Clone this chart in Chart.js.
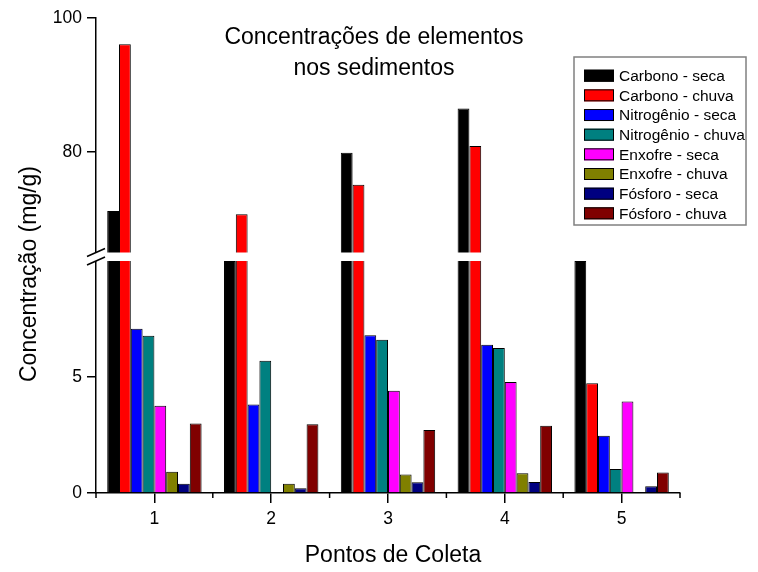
<!DOCTYPE html>
<html>
<head>
<meta charset="utf-8">
<script src="https://cdn.jsdelivr.net/npm/chart.js@4/dist/chart.umd.min.js"></script>
<style>
  html, body { margin: 0; padding: 0; background: #fff; }
  canvas { display: block; }
</style>
</head>
<body>
<canvas id="chart" width="758" height="572"></canvas>
<script>
// Sampling points and concentrations (mg/g) per element and season
const categories = ['1', '2', '3', '4', '5'];
const carbonoSeca     = [71.2, 60.0, 79.9, 86.5, 50.0];
const carbonoChuva    = [96.1, 70.7, 75.1, 80.9, 4.73];
const nitrogenioSeca  = [7.08, 3.82, 6.80, 6.39, 2.47];
const nitrogenioChuva = [6.78, 5.70, 6.61, 6.25, 1.03];
const enxofreSeca     = [3.76, 0, 4.41, 4.78, 3.94];
const enxofreChuva    = [0.92, 0.40, 0.80, 0.85, 0];
const fosforoSeca     = [0.40, 0.20, 0.46, 0.47, 0.29];
const fosforoChuva    = [3.00, 2.96, 2.72, 2.90, 0.88];

const seriesLabels = [
  'Carbono - seca', 'Carbono - chuva', 'Nitrogênio - seca', 'Nitrogênio - chuva',
  'Enxofre - seca', 'Enxofre - chuva', 'Fósforo - seca', 'Fósforo - chuva'
];
const seriesValues = [
  carbonoSeca, carbonoChuva, nitrogenioSeca, nitrogenioChuva,
  enxofreSeca, enxofreChuva, fosforoSeca, fosforoChuva
];
const seriesColors = ['#000000', '#ff0000', '#0000ff', '#008080', '#ff00ff', '#808000', '#000080', '#800000'];

const yTickValues = [0, 5, 80, 100];
const axisBreak = { from: 10, to: 65 };

const FONT = "'Liberation Sans', Arial, Helvetica, sans-serif";
// Vertical share of the plot taken by the lower segment and by the gap
const LOWER_SHARE = 232 / 475;
const GAP_SHARE = 8.5 / 475;

// Linear scale with a break between axisBreak.from and axisBreak.to
class BrokenLinearScale extends Chart.LinearScale {
  _segments() {
    const h = this.bottom - this.top;
    const lowH = h * LOWER_SHARE;
    const gapH = h * GAP_SHARE;
    return { lowH, gapH, upH: h - lowH - gapH };
  }
  getPixelForValue(value) {
    if (value === null || value === undefined || isNaN(value)) return NaN;
    const { lowH, gapH, upH } = this._segments();
    if (value <= axisBreak.from) {
      return this.bottom - (value - this.min) / (axisBreak.from - this.min) * lowH;
    }
    if (value < axisBreak.to) return this.bottom - lowH;
    return this.bottom - lowH - gapH - (value - axisBreak.to) / (this.max - axisBreak.to) * upH;
  }
  getValueForPixel(pixel) {
    const { lowH, gapH, upH } = this._segments();
    const d = this.bottom - pixel;
    if (d <= lowH) return this.min + d / lowH * (axisBreak.from - this.min);
    if (d < lowH + gapH) return axisBreak.from;
    return axisBreak.to + (d - lowH - gapH) / upH * (this.max - axisBreak.to);
  }
  breakPixels() {
    const { lowH, gapH } = this._segments();
    return { lower: this.bottom - lowH, upper: this.bottom - lowH - gapH };
  }
}
BrokenLinearScale.id = 'brokenLinear';
BrokenLinearScale.defaults = Chart.LinearScale.defaults;
Chart.register(BrokenLinearScale);

// White band through the bars and the axis, plus the "//" marks on the axis
const axisBreakPlugin = {
  id: 'axisBreak',
  afterDatasetsDraw(chart) {
    const { ctx, chartArea } = chart;
    const y = chart.scales.y;
    const { lower, upper } = y.breakPixels();
    ctx.save();
    ctx.fillStyle = '#ffffff';
    ctx.fillRect(chartArea.left - 3, upper, chartArea.right - chartArea.left + 3, lower - upper);
    ctx.strokeStyle = '#000';
    ctx.lineWidth = 1.5;
    [upper, lower].forEach(py => {
      ctx.beginPath();
      ctx.moveTo(chartArea.left - 9, py + 4);
      ctx.lineTo(chartArea.left + 9, py - 4);
      ctx.stroke();
    });
    ctx.restore();
  }
};

// Short ticks between sampling points on the x axis
const minorTickPlugin = {
  id: 'minorTicks',
  afterDraw(chart) {
    const { ctx } = chart;
    const x = chart.scales.x;
    const step = x.getPixelForValue(1) - x.getPixelForValue(0);
    ctx.save();
    ctx.strokeStyle = '#000';
    ctx.lineWidth = 1.5;
    for (let i = 0; i <= categories.length; i++) {
      const px = x.getPixelForValue(0) - step / 2 + i * step;
      ctx.beginPath();
      ctx.moveTo(px, x.top);
      ctx.lineTo(px, x.top + 5);
      ctx.stroke();
    }
    ctx.restore();
  }
};

// Title, axis titles and framed legend
const textPlugin = {
  id: 'chartTexts',
  afterDraw(chart) {
    const { ctx } = chart;
    ctx.save();
    ctx.fillStyle = '#000';
    ctx.textAlign = 'center';
    ctx.textBaseline = 'alphabetic';
    ctx.font = `23px ${FONT}`;
    ctx.fillText('Concentrações de elementos', 374, 44);
    ctx.fillText('nos sedimentos', 374, 75);
    ctx.fillText('Pontos de Coleta', 393, 562);

    ctx.save();
    ctx.translate(36, 274);
    ctx.rotate(-Math.PI / 2);
    ctx.fillText('Concentração (mg/g)', 0, 0);
    ctx.restore();

    // legend frame
    ctx.strokeStyle = '#808080';
    ctx.lineWidth = 1.5;
    ctx.strokeRect(574, 57, 172, 168);
    ctx.font = `15.5px ${FONT}`;
    ctx.textAlign = 'left';
    ctx.textBaseline = 'middle';
    chart.data.datasets.forEach((ds, i) => {
      const cy = 75.7 + i * 19.66;
      ctx.fillStyle = ds.backgroundColor;
      ctx.fillRect(584, cy - 6, 30, 12);
      ctx.strokeStyle = '#000';
      ctx.lineWidth = 1;
      ctx.strokeRect(584.5, cy - 5.5, 29, 11);
      ctx.fillStyle = '#000';
      ctx.fillText(ds.label, 619, cy + 1);
    });
    ctx.restore();
  }
};

new Chart(document.getElementById('chart'), {
  type: 'bar',
  data: {
    labels: categories,
    datasets: seriesValues.map((vals, i) => ({
      label: seriesLabels[i],
      data: vals,
      backgroundColor: seriesColors[i],
      borderColor: '#000000',
      borderWidth: 1,
      categoryPercentage: 0.808,
      barPercentage: 1
    }))
  },
  options: {
    responsive: false,
    animation: false,
    layout: { padding: { left: 0, top: 18, right: 78, bottom: 0 } },
    plugins: {
      legend: { display: false },
      title: { display: false },
      tooltip: { enabled: false }
    },
    scales: {
      x: {
        type: 'category',
        offset: true,
        grid: { offset: false, drawOnChartArea: false, drawTicks: true, tickLength: 10, color: '#000', lineWidth: 1.5 },
        border: { display: true, color: '#000', width: 1.5 },
        ticks: { color: '#000', font: { family: FONT, size: 17.5 }, padding: 6, maxRotation: 0 },
        afterFit(s) { s.height = 79; }
      },
      y: {
        type: 'brokenLinear',
        min: 0,
        max: 100,
        afterBuildTicks(s) { s.ticks = yTickValues.map(v => ({ value: v })); },
        grid: { drawOnChartArea: false, drawTicks: true, tickLength: 9, color: '#000', lineWidth: 1.5 },
        border: { display: true, color: '#000', width: 1.5 },
        ticks: { color: '#000', font: { family: FONT, size: 17.5 }, padding: 5, callback: v => String(v) },
        afterFit(s) { s.width = 96; }
      }
    }
  },
  plugins: [axisBreakPlugin, minorTickPlugin, textPlugin]
});
</script>
</body>
</html>
